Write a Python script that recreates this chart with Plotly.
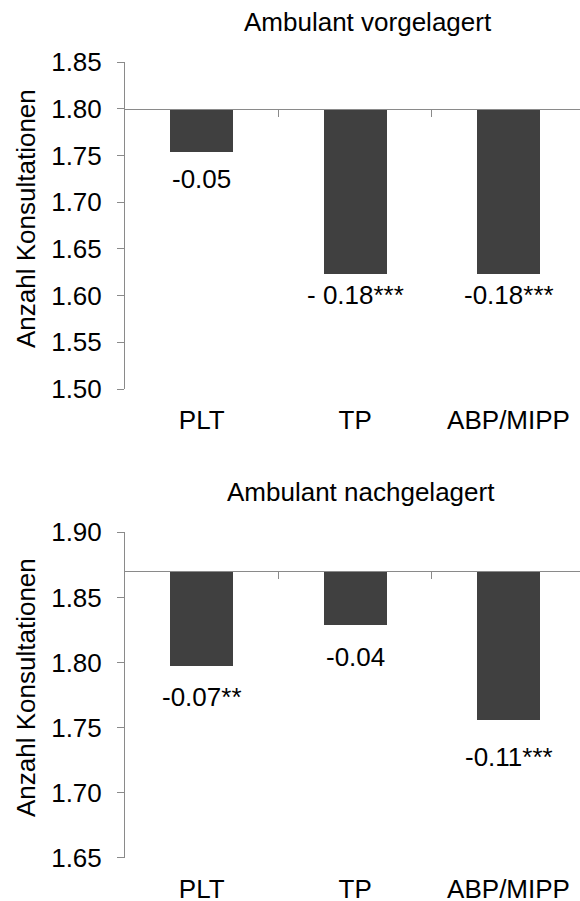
import plotly.graph_objects as go

# ---- data ----
categories = ["PLT", "TP", "ABP/MIPP"]

title_vor = "Ambulant vorgelagert"
base_vor = 1.80
delta_vor = [-0.0465, -0.1765, -0.1765]
labels_vor = ["-0.05", "- 0.18***", "-0.18***"]
label_y_vor = [1.7245, 1.6010, 1.6010]
yticks_vor = [1.50, 1.55, 1.60, 1.65, 1.70, 1.75, 1.80, 1.85]

title_nach = "Ambulant nachgelagert"
base_nach = 1.8703
delta_nach = [-0.0734, -0.0418, -0.1149]
labels_nach = ["-0.07**", "-0.04", "-0.11***"]
label_y_nach = [1.7739, 1.8042, 1.7275]
yticks_nach = [1.65, 1.70, 1.75, 1.80, 1.85, 1.90]

y_title = "Anzahl Konsultationen"

# ---- style ----
FONT = "Arial, Liberation Sans, sans-serif"
FS = 26
BAR = "#404040"
AX = "#8a8a8a"
XR = [-0.5, 2.466]

dom_top = [0.5892, 1.0]
dom_bot = [0.0, 0.4092]
rng_top = [1.50, 1.85]
rng_bot = [1.65, 1.90]


def base_pos(dom, rng, base):
    return dom[0] + (base - rng[0]) / (rng[1] - rng[0]) * (dom[1] - dom[0])


fig = go.Figure()
fig.add_trace(go.Bar(x=categories, y=delta_vor, base=base_vor, width=0.41,
                     marker=dict(color=BAR, line=dict(width=0)),
                     xaxis="x", yaxis="y", showlegend=False, hoverinfo="skip"))
fig.add_trace(go.Bar(x=categories, y=delta_nach, base=base_nach, width=0.41,
                     marker=dict(color=BAR, line=dict(width=0)),
                     xaxis="x3", yaxis="y2", showlegend=False, hoverinfo="skip"))
# carrier traces for the baseline axes
fig.add_trace(go.Scatter(x=[None], y=[None], xaxis="x2", yaxis="y",
                         showlegend=False, hoverinfo="skip"))
fig.add_trace(go.Scatter(x=[None], y=[None], xaxis="x4", yaxis="y2",
                         showlegend=False, hoverinfo="skip"))

cat_axis = dict(range=XR, showline=False, ticks="", showgrid=False, zeroline=False,
                tickfont=dict(family=FONT, size=FS, color="#000000"),
                ticklabelstandoff=13, automargin=False, fixedrange=True)
base_axis = dict(type="linear", range=XR, showline=True, linecolor=AX, linewidth=1,
                 ticks="outside", ticklen=7, tickcolor=AX, tickwidth=1,
                 tickvals=[0.5, 1.5], showticklabels=False, showgrid=False,
                 zeroline=False, anchor="free", automargin=False, fixedrange=True)
val_axis = dict(showline=True, linecolor=AX, linewidth=1, ticks="outside", ticklen=7,
                tickcolor=AX, tickwidth=1, showgrid=False, zeroline=False,
                tickformat=".2f", tickfont=dict(family=FONT, size=FS, color="#000000"),
                ticklabelstandoff=10, automargin=False, fixedrange=True)

fig.update_layout(
    width=580, height=901,
    margin=dict(l=125, r=0, t=62, b=43),
    paper_bgcolor="white", plot_bgcolor="white",
    template="none",
    bargap=0,
    xaxis=dict(cat_axis, domain=[0, 1], anchor="y"),
    xaxis2=dict(base_axis, overlaying="x", position=base_pos(dom_top, rng_top, base_vor)),
    xaxis3=dict(cat_axis, domain=[0, 1], anchor="y2"),
    xaxis4=dict(base_axis, overlaying="x3", position=base_pos(dom_bot, rng_bot, base_nach)),
    yaxis=dict(val_axis, domain=dom_top, range=rng_top, tickvals=yticks_vor, anchor="x"),
    yaxis2=dict(val_axis, domain=dom_bot, range=rng_bot, tickvals=yticks_nach, anchor="x3"),
)

ann = []
for c, t, yv in zip(categories, labels_vor, label_y_vor):
    ann.append(dict(x=c, y=yv, xref="x", yref="y", text=t, showarrow=False,
                    xanchor="center", yanchor="middle",
                    font=dict(family=FONT, size=FS, color="#000000")))
for c, t, yv in zip(categories, labels_nach, label_y_nach):
    ann.append(dict(x=c, y=yv, xref="x3", yref="y2", text=t, showarrow=False,
                    xanchor="center", yanchor="middle",
                    font=dict(family=FONT, size=FS, color="#000000")))
# titles
ann.append(dict(x=0.533, y=1.0508, xref="paper", yref="paper", text=title_vor,
                showarrow=False, xanchor="center", yanchor="middle",
                font=dict(family=FONT, size=FS, color="#000000")))
ann.append(dict(x=0.519, y=0.4592, xref="paper", yref="paper", text=title_nach,
                showarrow=False, xanchor="center", yanchor="middle",
                font=dict(family=FONT, size=FS, color="#000000")))
# y-axis titles
for yp in (0.8028, 0.2136):
    ann.append(dict(x=0, y=yp, xref="paper", yref="paper", text=y_title,
                    showarrow=False, textangle=-90, xanchor="center", yanchor="middle",
                    xshift=-99, font=dict(family=FONT, size=FS, color="#000000")))
fig.update_layout(annotations=ann)

fig.write_html("out.html", config={"displayModeBar": False},
               post_script="document.body.style.margin='0';document.body.style.padding='0';")
